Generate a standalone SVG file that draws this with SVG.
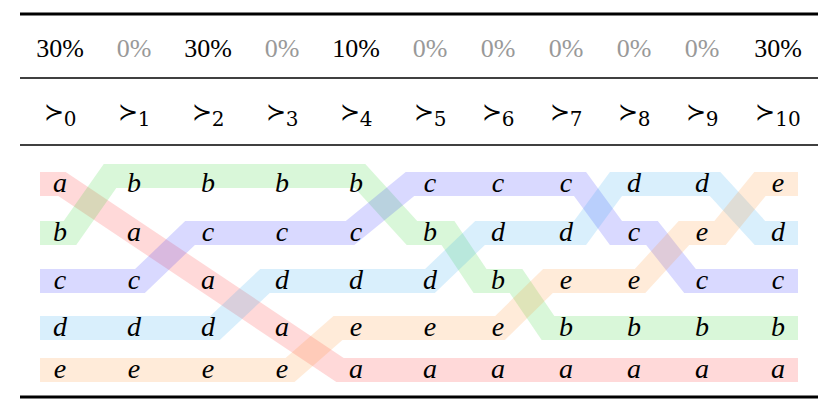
<svg xmlns="http://www.w3.org/2000/svg" width="830" height="411" viewBox="0 0 830 411">
<style>
.h{font-family:"Liberation Serif",serif;font-size:26px;text-anchor:middle}
.g{fill:#999}
.v{font-family:"Liberation Serif",serif;font-style:italic;font-size:28px;text-anchor:middle}
.s{font-family:"DejaVu Serif",serif;font-size:24px;text-anchor:middle}
.b{fill:none;stroke-width:24;stroke-opacity:0.17;stroke-linejoin:miter}
</style>
<rect width="830" height="411" fill="#fff"/>
<g id="rules" stroke="#000">
<line x1="20" y1="14" x2="818" y2="14" stroke-width="3"/>
<line x1="20" y1="78" x2="818" y2="78" stroke-width="1.5"/>
<line x1="20" y1="145" x2="818" y2="145" stroke-width="1.5"/>
<line x1="20" y1="397" x2="818" y2="397" stroke-width="3"/>
</g>
<g id="header">
<text class="h" x="60" y="57">30%</text><text class="h g" x="134" y="57">0%</text><text class="h" x="208" y="57">30%</text><text class="h g" x="282" y="57">0%</text><text class="h" x="356" y="57">10%</text><text class="h g" x="430" y="57">0%</text><text class="h g" x="498" y="57">0%</text><text class="h g" x="566" y="57">0%</text><text class="h g" x="634" y="57">0%</text><text class="h g" x="702" y="57">0%</text><text class="h" x="778" y="57">30%</text>
</g>
<g id="orders">
<text class="s" x="60" y="120">≻<tspan font-size="20" dy="6">0</tspan></text>
<text class="s" x="134" y="120">≻<tspan font-size="20" dy="6">1</tspan></text>
<text class="s" x="208" y="120">≻<tspan font-size="20" dy="6">2</tspan></text>
<text class="s" x="282" y="120">≻<tspan font-size="20" dy="6">3</tspan></text>
<text class="s" x="356" y="120">≻<tspan font-size="20" dy="6">4</tspan></text>
<text class="s" x="430" y="120">≻<tspan font-size="20" dy="6">5</tspan></text>
<text class="s" x="498" y="120">≻<tspan font-size="20" dy="6">6</tspan></text>
<text class="s" x="566" y="120">≻<tspan font-size="20" dy="6">7</tspan></text>
<text class="s" x="634" y="120">≻<tspan font-size="20" dy="6">8</tspan></text>
<text class="s" x="702" y="120">≻<tspan font-size="20" dy="6">9</tspan></text>
<text class="s" x="778" y="120">≻<tspan font-size="20" dy="6">10</tspan></text>
</g>
<g id="bands">
<polyline class="b" stroke="#ff2020" points="40,184 62,184 340,370 798,370"/>
<polyline class="b" stroke="#20d020" points="40,233 70,233 110,176 360,176 412,233 448,233 480,281 516,281 548,328 798,328"/>
<polyline class="b" stroke="#2020ff" points="40,281 140,281 190,233 350,233 410,184 580,184 616,233 652,233 690,281 798,281"/>
<polyline class="b" stroke="#20a0f0" points="40,328 215,328 265,281 430,281 480,233 580,233 616,184 715,184 760,233 798,233"/>
<polyline class="b" stroke="#ff8a20" points="40,370 290,370 338,328 500,328 548,281 640,281 684,233 720,233 760,184 798,184"/>
</g>
<g id="letters">
<text class="v" x="60" y="192">a</text><text class="v" x="60" y="241">b</text><text class="v" x="60" y="289">c</text><text class="v" x="60" y="336">d</text><text class="v" x="60" y="378">e</text>
<text class="v" x="134" y="192">b</text><text class="v" x="134" y="241">a</text><text class="v" x="134" y="289">c</text><text class="v" x="134" y="336">d</text><text class="v" x="134" y="378">e</text>
<text class="v" x="208" y="192">b</text><text class="v" x="208" y="241">c</text><text class="v" x="208" y="289">a</text><text class="v" x="208" y="336">d</text><text class="v" x="208" y="378">e</text>
<text class="v" x="282" y="192">b</text><text class="v" x="282" y="241">c</text><text class="v" x="282" y="289">d</text><text class="v" x="282" y="336">a</text><text class="v" x="282" y="378">e</text>
<text class="v" x="356" y="192">b</text><text class="v" x="356" y="241">c</text><text class="v" x="356" y="289">d</text><text class="v" x="356" y="336">e</text><text class="v" x="356" y="378">a</text>
<text class="v" x="430" y="192">c</text><text class="v" x="430" y="241">b</text><text class="v" x="430" y="289">d</text><text class="v" x="430" y="336">e</text><text class="v" x="430" y="378">a</text>
<text class="v" x="498" y="192">c</text><text class="v" x="498" y="241">d</text><text class="v" x="498" y="289">b</text><text class="v" x="498" y="336">e</text><text class="v" x="498" y="378">a</text>
<text class="v" x="566" y="192">c</text><text class="v" x="566" y="241">d</text><text class="v" x="566" y="289">e</text><text class="v" x="566" y="336">b</text><text class="v" x="566" y="378">a</text>
<text class="v" x="634" y="192">d</text><text class="v" x="634" y="241">c</text><text class="v" x="634" y="289">e</text><text class="v" x="634" y="336">b</text><text class="v" x="634" y="378">a</text>
<text class="v" x="702" y="192">d</text><text class="v" x="702" y="241">e</text><text class="v" x="702" y="289">c</text><text class="v" x="702" y="336">b</text><text class="v" x="702" y="378">a</text>
<text class="v" x="778" y="192">e</text><text class="v" x="778" y="241">d</text><text class="v" x="778" y="289">c</text><text class="v" x="778" y="336">b</text><text class="v" x="778" y="378">a</text>
</g>
</svg>
